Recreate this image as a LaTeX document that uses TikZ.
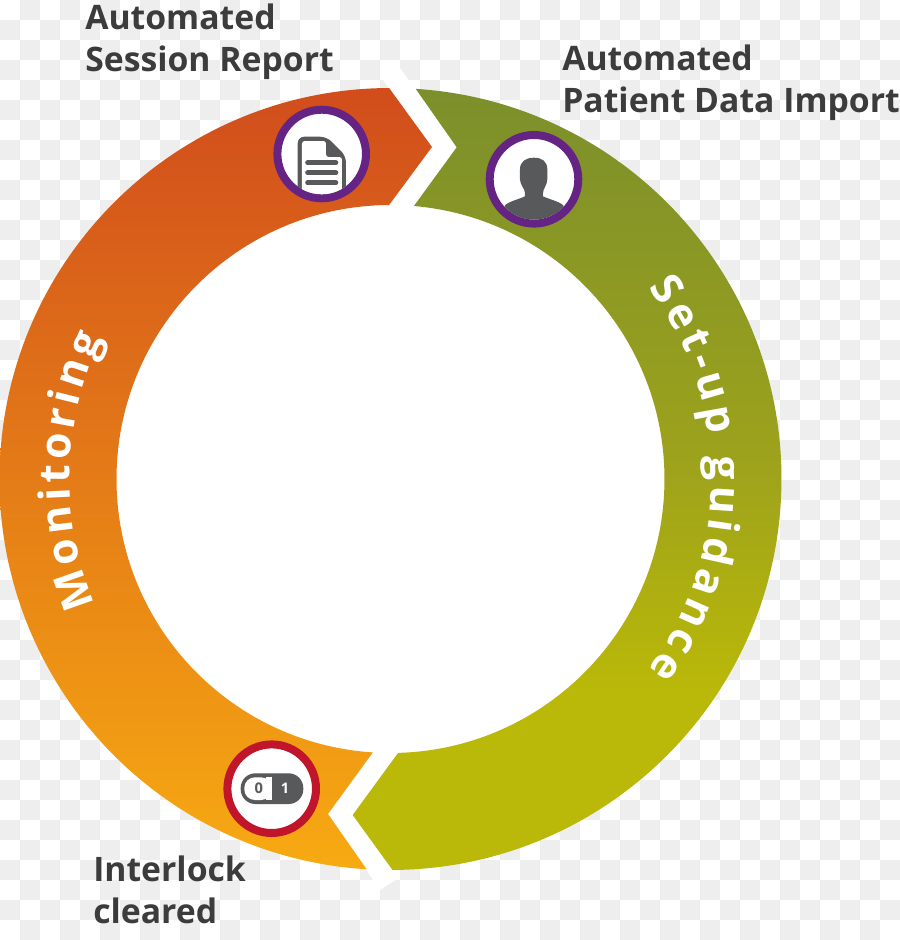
\documentclass[tikz,border=0pt]{standalone}
\usepackage{fontspec}
\setmainfont{Open Sans}
\usetikzlibrary{decorations.text}

% Green arrow fades out before its lower end
\pgfdeclareverticalshading{greenfade}{100bp}{rgb(0bp)=(.729,.722,.035); rgb(36.5bp)=(.729,.722,.035);
    rgb(50.6bp)=(.62,.639,.106); rgb(75bp)=(.482,.561,.169); rgb(100bp)=(.482,.561,.169)}

\begin{document}
\begin{tikzpicture}[x=0.75pt,y=0.75pt,
    steplabel/.style={anchor=north west, inner sep=0pt, align=left, text=labelgrey,
        font=\fontsize{25.3}{31.5}\selectfont\bfseries},
    ringtext/.style={decorate, decoration={text along path, raise=0pt,
        text align={fit to path},
        text={|\fontsize{32}{38}\selectfont\bfseries\color{white}|#1}}},
    badge/.style={draw=#1, line width=6pt, fill=white},
    switchdigit/.style={font=\fontsize{11}{13}\selectfont\bfseries}]
\definecolor{labelgrey}{HTML}{3C3C3C}
\definecolor{icongrey}{HTML}{58595B}
\definecolor{checkgrey}{HTML}{EEEEEE}
\definecolor{badgepurple}{HTML}{652484}
\definecolor{badgered}{HTML}{C0152A}
\useasboundingbox (-390.5,-461) rectangle (509.5,479);

% Checkered backdrop, 20 units a square
\fill[white] (-390.5,-461) rectangle (509.5,479);
\foreach \col in {0,...,44} {
    \foreach \row in {0,...,46} {
        \pgfmathtruncatemacro{\odd}{mod(\col+\row,2)}
        \ifnum\odd=1
            \pgfmathsetmacro{\x}{\col*20-390.5}
            \pgfmathsetmacro{\y}{479-\row*20}
            \fill[checkgrey] (\x,\y) rectangle ++(20,-20);
        \fi
    }
}

% Hole of the ring and the two white gaps
\fill[white] (0,0) circle (276);
\fill[white] (-7.5,399) -- (9.5,411) -- (66.5,332) -- (23.5,273) -- (-1.5,273) -- (41.5,332) -- cycle;
\fill[white] (-10.5,-411) -- (9.5,-398) -- (-37.8,-336) -- (7.5,-274) -- (-17.5,-274) -- (-62.5,-335) -- cycle;

% Two arrows of the cycle
\shade[top color={rgb,255:red,209;green,77;blue,28}, bottom color={rgb,255:red,247;green,170;blue,18}]
    (266.5:391) arc[start angle=266.5, end angle=90.2, radius=391] -- (41.5,332)
    -- (90.3:274) arc[start angle=90.3, end angle=266.3, radius=274] -- (-62.5,-335) -- cycle;
\shade[shading=greenfade]
    (86.3:391) arc[start angle=86.3, end angle=-89.7, radius=391] -- (-37.8,-336)
    -- (-88.4:274) arc[start angle=-88.4, end angle=85.1, radius=274] -- (66.2,331.7) -- cycle;

% Bent titles
\path[ringtext={Set-up guidance}] (36.5:321) arc[start angle=36.5, end angle=-36.5, radius=321];
\path[ringtext={Monitoring}] (203:321) arc[start angle=203, end angle=154, radius=321];

% Report badge
\begin{scope}[shift={(-68.8,325)}]
    \draw[badge=badgepurple] (0,0) circle (44.3);
    \clip (0,0) circle (40.3);
    \fill[icongrey, rounded corners=5pt] (-24,-60) -- (-24,17.3) -- (5,17.3) -- (24.3,-2) -- (24.3,-60) -- cycle;
    \fill[white, rounded corners=2pt] (-19.7,-60) -- (-19.7,13) -- (4.3,13) -- (4.3,-3) -- (20.3,-3) -- (20.3,-60) -- cycle;
    \foreach \y in {-8.7,-18.7,-28.7} {
        \draw[icongrey, line width=3.4pt, line cap=round] (-14.2,\y) -- (14.3,\y);
    }
\end{scope}

% Patient badge
\begin{scope}[shift={(143.5,299.7)}]
    \draw[badge=badgepurple] (0,0) circle (44.3);
    \clip (0,0) circle (40.3);
    \fill[icongrey] (-14,10) .. controls (-14,18) and (-8,21.6) .. (0,21.6)
        .. controls (8,21.6) and (13.3,18) .. (13.3,10) -- (13.3,0)
        .. controls (13.3,-6) and (9,-9) .. (9,-14) -- (9,-17)
        .. controls (15,-20) and (25,-22) .. (29.3,-26) -- (29.3,-50) -- (-29,-50) -- (-29,-26)
        .. controls (-25,-22) and (-15,-20) .. (-9,-17) -- (-9,-14)
        .. controls (-9,-9) and (-14,-6) .. (-14,0) -- cycle;
\end{scope}

% Interlock badge
\begin{scope}[shift={(-118.8,-309.7)}]
    \draw[badge=badgered] (0,0) circle (44.3);
    \fill[icongrey, rounded corners=11pt] (-31,-15.3) rectangle (31.6,15.4);
    \fill[white, rounded corners=8pt] (-27.4,-11.3) -- (-27.4,11.4) -- (0,11.4) -- (0,-11.3) -- cycle;
    \fill[white] (-6,-11.3) rectangle (0,11.4);
    \node[icongrey, switchdigit] (switchoff) at (-13,0) {0};
    \node[white, switchdigit] (switchon) at (13.3,0) {1};
\end{scope}

% Step labels
\node[steplabel] (report) at (-305.5,475) {Automated\\Session Report};
\node[steplabel] (patient) at (171.5,434) {Automated\\Patient Data Import};
\node[steplabel] (interlock) at (-297.5,-377) {Interlock\\cleared};
\end{tikzpicture}
\end{document}
